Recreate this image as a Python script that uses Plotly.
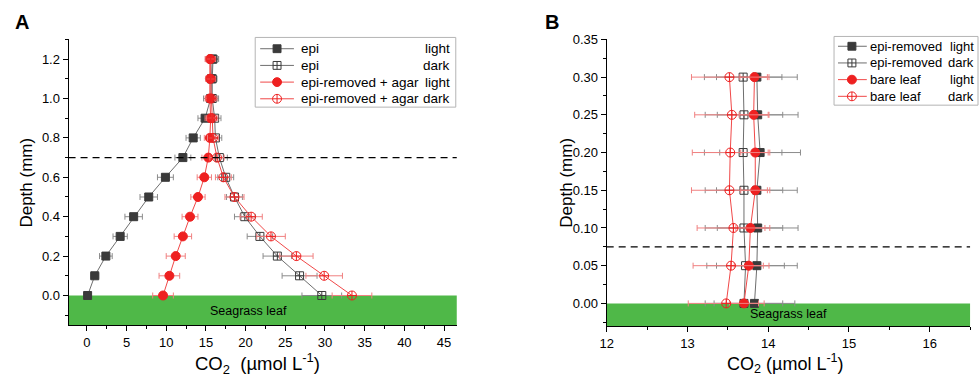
import plotly.graph_objects as go

# ---------------- Panel A data ----------------
depth_a = [0, 0.1, 0.2, 0.3, 0.4, 0.5, 0.6, 0.7, 0.8, 0.9, 1.0, 1.1, 1.2]
epi_light = [0.1, 1.0, 2.4, 4.2, 5.9, 7.8, 9.9, 12.1, 13.4, 14.9, 15.6, 15.7, 15.8]
epi_light_err = [0.3, 0.5, 0.8, 0.9, 1.1, 1.1, 1.0, 1.0, 0.9, 0.9, 0.9, 0.6, 0.8]
epi_dark = [29.6, 26.8, 24.0, 21.8, 19.9, 18.6, 17.5, 16.7, 16.2, 16.1, 15.8, 15.8, 15.9]
epi_dark_err = [2.5, 2.2, 1.8, 1.6, 1.3, 1.0, 1.0, 1.0, 0.8, 0.8, 0.8, 0.6, 0.7]
agar_light = [9.6, 10.4, 11.2, 12.1, 13.0, 14.0, 14.8, 15.3, 15.5, 15.6, 15.5, 15.5, 15.5]
agar_light_err = [1.3, 1.3, 1.2, 1.1, 1.0, 0.9, 0.9, 0.8, 0.7, 0.7, 0.6, 0.5, 0.6]
agar_dark = [33.4, 29.9, 26.4, 23.2, 20.7, 18.6, 17.2, 16.4, 15.9, 15.8, 15.7, 15.6, 15.6]
agar_dark_err = [2.5, 2.3, 2.1, 1.8, 1.4, 1.2, 1.0, 0.9, 0.7, 0.7, 0.7, 0.6, 0.6]

# ---------------- Panel B data ----------------
depth_b = [0, 0.05, 0.10, 0.15, 0.20, 0.25, 0.30]
rem_light = [13.83, 13.86, 13.87, 13.86, 13.90, 13.87, 13.86]
rem_light_err = [0.5, 0.5, 0.5, 0.5, 0.5, 0.5, 0.5]
rem_dark = [13.70, 13.72, 13.70, 13.70, 13.69, 13.70, 13.69]
rem_dark_err = [0.48, 0.48, 0.48, 0.48, 0.48, 0.48, 0.48]
bare_light = [13.70, 13.76, 13.78, 13.84, 13.84, 13.82, 13.83]
bare_light_err = [0.18, 0.18, 0.18, 0.18, 0.18, 0.18, 0.18]
bare_dark = [13.48, 13.54, 13.57, 13.52, 13.53, 13.55, 13.52]
bare_dark_err = [0.47, 0.47, 0.45, 0.47, 0.47, 0.46, 0.47]

legend_a_names = ["epi", "epi", "epi-removed + agar", "epi-removed + agar"]
legend_b_names = ["epi-removed", "epi-removed", "bare leaf", "bare leaf"]
conditions = ["light", "dark", "light", "dark"]

DARK = "#3a3a3a"
GREYLINE = "#6e6e6e"
GREYERR = "#8c8c8c"
RED = "#ee2020"
REDLINE = "#f04848"
REDERR = "#f08080"
GREEN = "#4fb848"
FONT = "Liberation Sans"

W, H = 979, 381
fig = go.Figure()

STYLES = [
    dict(symbol="square", mcol=DARK, lcol=GREYLINE, ecol=GREYERR, size=8),
    dict(symbol="square-cross-open", mcol=DARK, lcol=GREYLINE, ecol=GREYERR, size=8),
    dict(symbol="circle", mcol=RED, lcol=REDLINE, ecol=REDERR, size=9),
    dict(symbol="circle-cross-open", mcol=RED, lcol=REDLINE, ecol=REDERR, size=9),
]

def add(x, y, err, name, st, xa, ya):
    fig.add_trace(go.Scatter(
        x=x, y=y, mode="lines+markers", name=name, showlegend=False,
        xaxis=xa, yaxis=ya,
        line=dict(color=st["lcol"], width=1),
        marker=dict(symbol=st["symbol"], size=st["size"], color=st["mcol"],
                    line=dict(color=st["mcol"], width=1)),
        error_x=dict(type="data", array=err, visible=True, color=st["ecol"],
                     thickness=1, width=3),
    ))

series_a = [(epi_light, epi_light_err), (epi_dark, epi_dark_err),
            (agar_light, agar_light_err), (agar_dark, agar_dark_err)]
series_b = [(rem_light, rem_light_err), (rem_dark, rem_dark_err),
            (bare_light, bare_light_err), (bare_dark, bare_dark_err)]
for i, (v, e) in enumerate(series_a):
    add(v, depth_a, e, legend_a_names[i] + " " + conditions[i], STYLES[i], "x", "y")
for i, (v, e) in enumerate(series_b):
    add(v, depth_b, e, legend_b_names[i] + " " + conditions[i], STYLES[i], "x2", "y2")

def dx(p0, p1):
    return [p0 / W, p1 / W]
def dy(top, bot):
    return [1 - bot / H, 1 - top / H]
def px(p):
    return p / W
def py(p):
    return 1 - p / H

axis_common = dict(showline=True, linecolor="black", linewidth=1, ticks="outside",
                   ticklen=5, tickcolor="black", showgrid=False, zeroline=False,
                   tickfont=dict(family=FONT, size=13, color="black"))

fig.update_layout(
    width=W, height=H, margin=dict(l=0, r=0, t=0, b=0),
    paper_bgcolor="white", plot_bgcolor="white",
    font=dict(family=FONT, color="black"),
    showlegend=False,
    xaxis=dict(domain=dx(62, 453), range=[-2.3, 46.6], tickvals=list(range(0, 50, 5)),
               minor=dict(ticklen=3, dtick=2.5, tick0=0, ticks="outside", tickcolor="black"),
               anchor="y", **axis_common),
    yaxis=dict(domain=dy(33, 324), range=[-0.15, 1.3], tickvals=[0, 0.2, 0.4, 0.6, 0.8, 1.0, 1.2],
               tickformat=".1f",
               minor=dict(ticklen=3, dtick=0.1, tick0=0, ticks="outside", tickcolor="black"),
               anchor="x", **axis_common),
    xaxis2=dict(domain=dx(604, 970), range=[12, 16.5], tickvals=[12, 13, 14, 15, 16],
                minor=dict(ticklen=3, dtick=0.5, tick0=12, ticks="outside", tickcolor="black"),
                anchor="y2", **axis_common),
    yaxis2=dict(domain=dy(33, 325), range=[-0.03, 0.35],
                tickvals=[0, 0.05, 0.1, 0.15, 0.2, 0.25, 0.3, 0.35], tickformat=".2f",
                minor=dict(ticklen=3, dtick=0.025, tick0=0, ticks="outside", tickcolor="black"),
                anchor="x2", **axis_common),
)

shapes = [
    dict(type="rect", xref="x domain", yref="y", x0=0, x1=1, y0=-0.15, y1=0,
         fillcolor=GREEN, line=dict(width=0), layer="below"),
    dict(type="rect", xref="x2 domain", yref="y2", x0=0, x1=1, y0=-0.03, y1=0,
         fillcolor=GREEN, line=dict(width=0), layer="below"),
    dict(type="line", xref="x domain", yref="y", x0=0, x1=1, y0=0.7, y1=0.7,
         line=dict(color="black", width=1.3, dash="7px,5px")),
    dict(type="line", xref="x2 domain", yref="y2", x0=0, x1=1, y0=0.075, y1=0.075,
         line=dict(color="black", width=1.3, dash="7px,5px")),
]

ann = [
    dict(text="Seagrass leaf", x=20.4, y=-0.08, xref="x", yref="y", showarrow=False,
         xanchor="center", yanchor="middle", font=dict(family=FONT, size=12.5, color="black")),
    dict(text="Seagrass leaf", x=14.25, y=-0.0143, xref="x2", yref="y2", showarrow=False,
         xanchor="center", yanchor="middle", font=dict(family=FONT, size=12.5, color="black")),
    dict(text="Depth (mm)", x=px(20), y=py(179), xref="paper", yref="paper", textangle=-90,
         xanchor="center", yanchor="middle", showarrow=False,
         font=dict(family=FONT, size=17, color="black")),
    dict(text="Depth (mm)", x=px(564), y=py(179), xref="paper", yref="paper", textangle=-90,
         xanchor="center", yanchor="middle", showarrow=False,
         font=dict(family=FONT, size=17, color="black")),
    dict(text="CO<sub>2</sub>  (µmol L<sup>-1</sup>)", x=px(252), y=py(363), xref="paper",
         yref="paper", xanchor="center", yanchor="middle", showarrow=False,
         font=dict(family=FONT, size=18.5, color="black")),
    dict(text="CO<sub>2</sub> (µmol L<sup>-1</sup>)", x=px(784), y=py(363), xref="paper",
         yref="paper", xanchor="center", yanchor="middle", showarrow=False,
         font=dict(family=FONT, size=18, color="black")),
    dict(text="<b>A</b>", x=px(15), y=py(15), xref="paper", yref="paper", showarrow=False,
         xanchor="center", yanchor="middle", font=dict(family=FONT, size=20, color="black")),
    dict(text="<b>B</b>", x=px(549), y=py(15), xref="paper", yref="paper", showarrow=False,
         xanchor="center", yanchor="middle", font=dict(family=FONT, size=20, color="black")),
]

# ---------------- manual legends ----------------
def legend_box(x0, x1, y0, y1, rows_y, line_x0, line_x1, mark_x, text_x, right_x, names, fs):
    shapes.append(dict(type="rect", xref="paper", yref="paper", x0=px(x0), x1=px(x1),
                       y0=py(y1), y1=py(y0), fillcolor="white",
                       line=dict(color="#b4b4b4", width=1)))
    for i, ry in enumerate(rows_y):
        st = STYLES[i]
        shapes.append(dict(type="line", xref="paper", yref="paper", x0=px(line_x0), x1=px(line_x1),
                           y0=py(ry), y1=py(ry), line=dict(color=st["lcol"], width=1)))
        r = st["size"] / 2.0
        kind = "rect" if "square" in st["symbol"] else "circle"
        is_open = "open" in st["symbol"]
        shapes.append(dict(type=kind, xref="paper", yref="paper",
                           x0=px(mark_x - r), x1=px(mark_x + r), y0=py(ry + r), y1=py(ry - r),
                           fillcolor="white" if is_open else st["mcol"],
                           line=dict(color=st["mcol"], width=1)))
        if is_open:
            shapes.append(dict(type="line", xref="paper", yref="paper", x0=px(mark_x - r),
                               x1=px(mark_x + r), y0=py(ry), y1=py(ry),
                               line=dict(color=st["mcol"], width=1)))
            shapes.append(dict(type="line", xref="paper", yref="paper", x0=px(mark_x),
                               x1=px(mark_x), y0=py(ry - r), y1=py(ry + r),
                               line=dict(color=st["mcol"], width=1)))
        ann.append(dict(text=names[i], x=px(text_x), y=py(ry), xref="paper", yref="paper",
                        xanchor="left", yanchor="middle", showarrow=False,
                        font=dict(family=FONT, size=fs, color="black")))
        ann.append(dict(text=conditions[i], x=px(right_x), y=py(ry), xref="paper", yref="paper",
                        xanchor="right", yanchor="middle", showarrow=False,
                        font=dict(family=FONT, size=fs, color="black")))

legend_box(250, 452, 31, 102, [42.5, 59.5, 76.5, 93.5], 255, 289, 272, 294, 448,
           legend_a_names, 13.5)
legend_box(833, 978, 30, 100, [40, 57, 74, 91], 837, 866, 851, 867, 976,
           legend_b_names, 13)

fig.update_layout(shapes=shapes, annotations=ann)
fig.write_html("out.html")
